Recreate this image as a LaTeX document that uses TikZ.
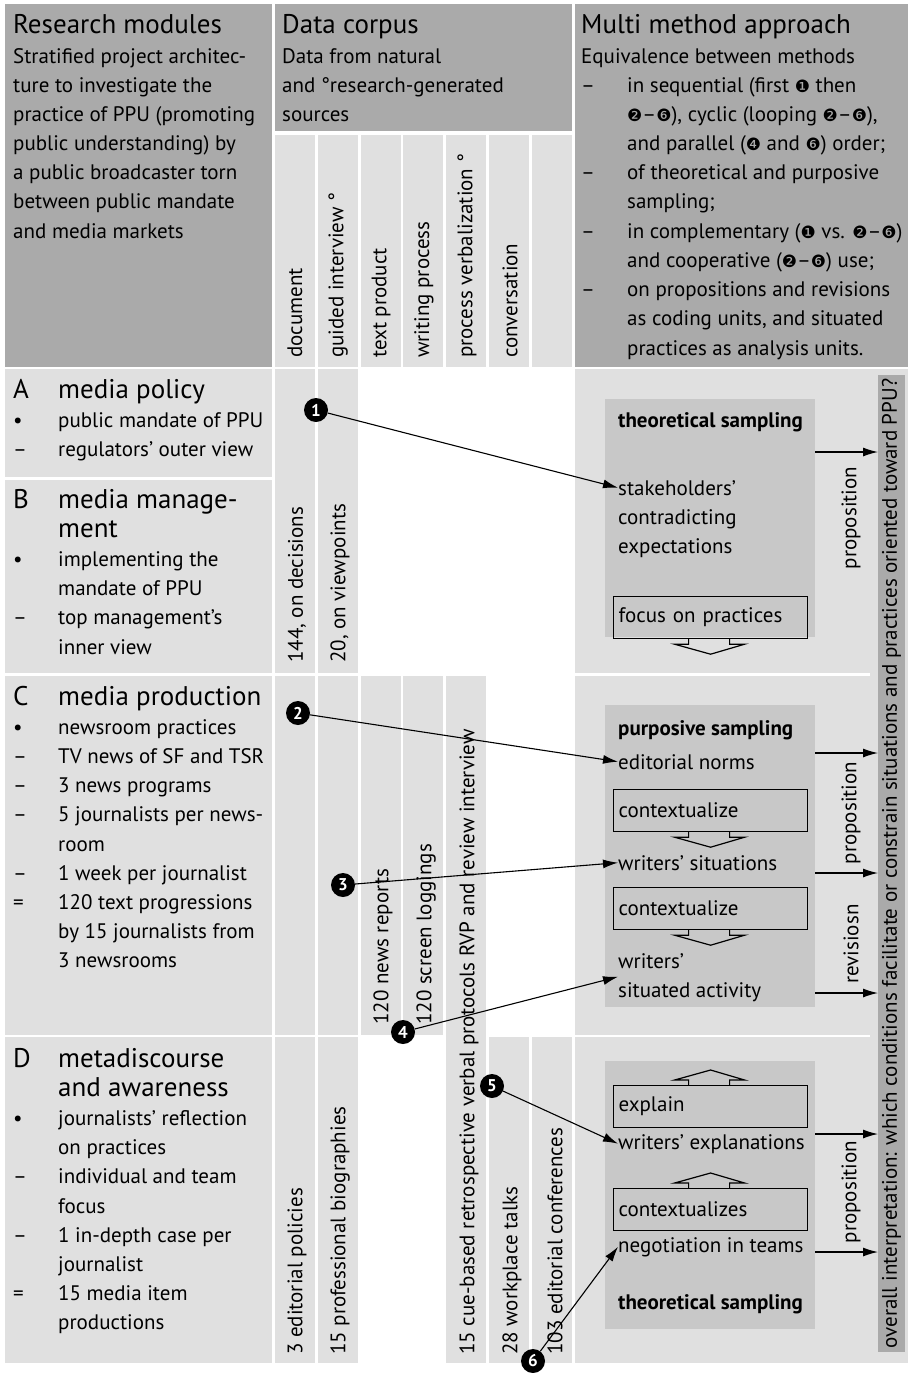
\documentclass[tikz,border=0pt]{standalone}
\usepackage{fontspec}
\setmainfont{PT Sans}
\newfontfamily\dingfont{DejaVu Sans}
\usetikzlibrary{arrows.meta}
\definecolor{hdr}{HTML}{AAAAAA}
\definecolor{cel}{HTML}{E0E0E0}
\definecolor{boxg}{HTML}{C8C8C8}
\newcommand{\cn}[1]{{\dingfont\fontsize{17}{17}\selectfont #1}}
\newcommand{\bodyfont}{\fontsize{21}{29.2}\selectfont}
\newcommand{\titlefont}{\fontsize{27}{29.2}\selectfont}
\newcommand{\lines}[1]{\begin{tabular}[t]{@{}l@{}}#1\end{tabular}}

\begin{document}
\begin{tikzpicture}[x=1pt,y=-1pt,
        every node/.style={font=\bodyfont, inner sep=0pt},
        vlab/.style={rotate=90, anchor=west},
        subbox/.style={draw, line width=1.2pt, anchor=north west,
            minimum width=194pt, minimum height=42pt, text width=184pt,
            align=left, inner sep=5pt},
        num/.style={circle, fill=black, text=white, minimum size=24pt,
            font=\bfseries\fontsize{17}{17}\selectfont},
        >={Latex[length=15pt,width=9pt]}]
        \useasboundingbox (0,0) rectangle (908,1373);

        % Kopfzeile
        \fill[hdr] (5,4) rectangle (272,367);
        \fill[hdr] (275,4) rectangle (572,131);
        \fill[hdr] (575,4) rectangle (908,367);
        \foreach \x in {275,318,361,403,446,489,532}
            \fill[cel] (\x,135) rectangle (\x+40,367);

        % Zeilen A--D
        \foreach \ya/\yb in {369/477, 480/673, 676/1035, 1037/1363}
            \fill[cel] (5,\ya) rectangle (272,\yb);
        \foreach \x/\ya/\yb in {275/369/673, 318/369/673, 275/676/1035,
                318/676/1035, 361/676/1035, 403/676/1035, 446/676/1363,
                275/1037/1363, 318/1037/1363, 489/1037/1363, 532/1037/1363}
            \fill[cel] (\x,\ya) rectangle (\x+40,\yb);
        \fill[cel] (575,369) rectangle (908,1363);
        \draw[white, line width=2.5pt] (575,674.5) -- (870,674.5);
        \draw[white, line width=2.5pt] (575,1036) -- (870,1036);
        \fill[hdr] (878,375) rectangle (905,1352);
        \fill[boxg] (605,399) rectangle (815,637);
        \fill[boxg] (605,705) rectangle (815,1007);
        \fill[boxg] (605,1061) rectangle (815,1329);

        % Kopftexte
        \node[anchor=base west] (hdrA) at (13,33) {\titlefont Research modules};
        \node[anchor=base west] (hdrAtxt) at (13,63)
            {\lines{Stratified project architec-\\ture to investigate the\\practice of PPU (promoting\\public understanding) by\\a public broadcaster torn\\between public mandate\\and media markets}};
        \node[anchor=base west] (hdrB) at (282,33) {\titlefont Data corpus};
        \node[anchor=base west] (hdrBtxt) at (282,63)
            {\lines{Data from natural\\and °research-generated\\sources}};
        \node[anchor=base west] (hdrC) at (581,33) {\titlefont Multi method approach};
        \node[anchor=base west] (hdrCtxt) at (581,63)
            {\begin{tabular}[t]{@{}p{46pt}@{}l@{}}
            \multicolumn{2}{@{}l@{}}{Equivalence between methods}\\
            – & in sequential (first \cn{❶} then\\
              & \cn{❷}–\cn{❻}), cyclic (looping \cn{❷}–\cn{❻}),\\
              & and parallel (\cn{❹} and \cn{❻}) order;\\
            – & of theoretical and purposive\\
              & sampling;\\
            – & in complementary (\cn{❶} vs. \cn{❷}–\cn{❻})\\
              & and cooperative (\cn{❷}–\cn{❻}) use;\\
            – & on propositions and revisions\\
              & as coding units, and situated\\
              & practices as analysis units.
            \end{tabular}};

        % Spaltenköpfe
        \foreach \t [count=\i] in {document, guided interview °, text product,
                writing process, process verbalization °, conversation}
            \node[vlab] (col\i) at (275+43*\i-23,358) {\t};

        % Module
        \node[anchor=base west] (modA) at (13,398)
            {\begin{tabular}[t]{@{}p{45pt}@{}l@{}}
            \titlefont A & \titlefont media policy\\
            • & public mandate of PPU\\
            – & regulators’ outer view
            \end{tabular}};
        \node[anchor=base west] (modB) at (13,508)
            {\begin{tabular}[t]{@{}p{45pt}@{}l@{}}
            \titlefont B & \titlefont media manage-\\
              & \titlefont ment\\
            • & implementing the\\
              & mandate of PPU\\
            – & top management’s\\
              & inner view
            \end{tabular}};
        \node[anchor=base west] (modC) at (13,705)
            {\begin{tabular}[t]{@{}p{45pt}@{}l@{}}
            \titlefont C & \titlefont media production\\
            • & newsroom practices\\
            – & TV news of SF and TSR\\
            – & 3 news programs\\
            – & 5 journalists per news-\\
              & room\\
            – & 1 week per journalist\\
            = & 120 text progressions\\
              & by 15 journalists from\\
              & 3 newsrooms
            \end{tabular}};
        \node[anchor=base west] (modD) at (13,1067)
            {\begin{tabular}[t]{@{}p{45pt}@{}l@{}}
            \titlefont D & \titlefont metadiscourse\\
              & \titlefont and awareness\\
            • & journalists’ reflection\\
              & on practices\\
            – & individual and team\\
              & focus\\
            – & 1 in-depth case per\\
              & journalist\\
            = & 15 media item\\
              & productions
            \end{tabular}};

        % Korpus
        \node[vlab] (decis) at (297,663) {144, on decisions};
        \node[vlab] (viewp) at (340,663) {20, on viewpoints};
        \node[vlab] (news) at (383,1025) {120 news reports};
        \node[vlab] (logs) at (426,1025) {120 screen loggings};
        \node[vlab] (rvp) at (469,1355) {15 cue-based retrospective verbal protocols RVP and review interview};
        \node[vlab] (polic) at (297,1355) {3 editorial policies};
        \node[vlab] (biogr) at (340,1355) {15 professional biographies};
        \node[vlab] (talks) at (512,1355) {28 workplace talks};
        \node[vlab] (confs) at (555,1355) {103 editorial conferences};

        % Methoden
        \node[anchor=base west] (thsA) at (618,427) {\bfseries theoretical sampling};
        \node[anchor=base west] (stake) at (618,495) {stakeholders’};
        \node[anchor=base west] (contra) at (618,524) {\lines{contradicting\\expectations}};
        \node[subbox] (focus) at (613,596) {focus on practices};

        \node[anchor=base west] (purp) at (618,735) {\bfseries purposive sampling};
        \node[anchor=base west] (norms) at (618,769) {editorial norms};
        \node[subbox] (ctxA) at (613,789) {contextualize};
        \node[anchor=base west] (situ) at (618,870) {writers’ situations};
        \node[subbox] (ctxB) at (613,887) {contextualize};
        \node[anchor=base west] (activ) at (618,968) {\lines{writers’\\situated activity}};

        \node[subbox] (expl) at (613,1085) {explain};
        \node[anchor=base west] (explan) at (618,1149) {writers’ explanations};
        \node[subbox] (ctxC) at (613,1188) {contextualizes};
        \node[anchor=base west] (nego) at (618,1252) {negotiation in teams};
        \node[anchor=base west] (thsD) at (618,1309) {\bfseries theoretical sampling};

        \foreach \s in {focus, ctxA, ctxB}
            \draw[line width=1.2pt] ([xshift=-22pt]\s.south) -- ++(0,5) -- ++(-14,0)
                -- ++(36,10) -- ++(34,-10) -- ++(-15,0) -- ++(0,-5);
        \foreach \s in {expl, ctxC}
            \draw[line width=1.2pt] ([xshift=-22pt]\s.north) -- ++(0,-5) -- ++(-14,0)
                -- ++(36,-10) -- ++(34,10) -- ++(-15,0) -- ++(0,5);

        % Interpretation
        \node[rotate=90] (bar) at (891.5,863.5)
            {overall interpretation: which conditions facilitate or constrain situations and practices oriented toward PPU?};
        \coordinate (barL) at (878,0);
        \foreach \nm/\y in {pA/452, pB/753, pC/873, pD/993, pE/1134, pF/1252}{
            \coordinate (\nm) at (815,\y);
            \draw[->, line width=1.2pt] (\nm) -- (\nm -| barL);
        }
        \node[rotate=90] (propA) at (851,518) {proposition};
        \node[rotate=90] (propC) at (851,813) {proposition};
        \node[rotate=90] (revC) at (851,944) {revisiosn};
        \node[rotate=90] (propD) at (851,1192) {proposition};

        % Nummern
        \foreach \nm/\p/\k in {n1/{(316,410)}/1, n2/{(298,713)}/2, n3/{(343,885)}/3,
                n4/{(403,1032)}/4, n5/{(492,1086)}/5, n6/{(533,1361)}/6}
            \node[num] (\nm) at \p {\k};
        \draw[->, line width=1.1pt] (n1) -- (stake.west);
        \draw[->, line width=1.1pt] (n2) -- (norms.west);
        \draw[->, line width=1.1pt] (n3) -- (situ.west);
        \draw[->, line width=1.1pt] (n4) -- (activ.west);
        \draw[->, line width=1.1pt] (n5) -- (explan.west);
        \draw[->, line width=1.1pt] (n6) -- (nego.west);
    \end{tikzpicture}
\end{document}
